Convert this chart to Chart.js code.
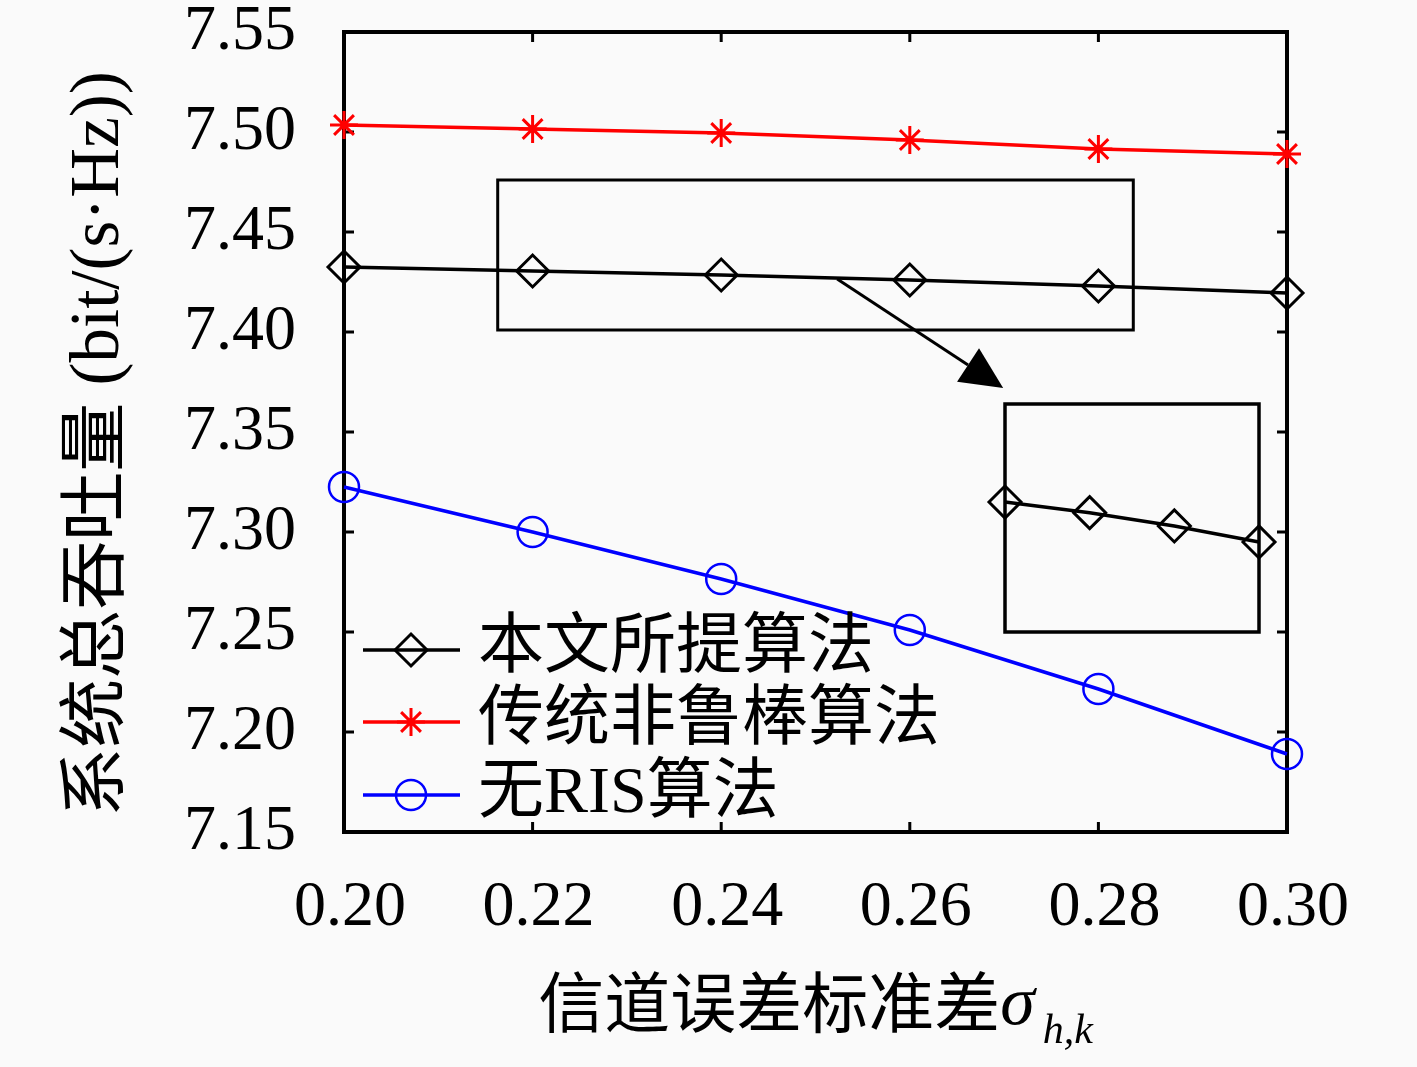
<!DOCTYPE html>
<html>
<head>
<meta charset="utf-8">
<script src="https://cdn.jsdelivr.net/npm/chart.js@4.4.1/dist/chart.umd.min.js"></script>
<style>
  html, body { margin: 0; padding: 0; background: #fafafa; }
  #wrap { position: relative; width: 1417px; height: 1067px; }
  #main { position: absolute; left: 0; top: 0; }
  #inset { position: absolute; left: 975px; top: 374px; }
</style>
</head>
<body>
<div id="wrap">
  <canvas id="main" width="1417" height="1067"></canvas>
  <canvas id="inset" width="314" height="288"></canvas>
</div>
<script>
// data
const sigma = [0.20, 0.22, 0.24, 0.26, 0.28, 0.30];
const proposed = [7.4325, 7.4305, 7.4285, 7.4260, 7.4230, 7.4195];
const nonRobust = [7.5035, 7.5015, 7.4995, 7.4960, 7.4915, 7.4890];
const noRIS = [7.3225, 7.3000, 7.2765, 7.2510, 7.2215, 7.1890];
const seriesNames = ['本文所提算法', '传统非鲁棒算法', '无RIS算法'];
const xTicks = [0.20, 0.22, 0.24, 0.26, 0.28, 0.30];
const yTicks = [7.15, 7.20, 7.25, 7.30, 7.35, 7.40, 7.45, 7.50, 7.55];

// zoom annotation (data coords)
const zoomBox = [0.2163, 7.401, 0.2837, 7.476];
const arrowFrom = [0.2523, 7.4265];
const arrowTo = [0.2699, 7.372];
const insetRange = { x: [0.22, 0.28], y: [7.4061, 7.4489] };

const SERIF = '"Liberation Serif", "DejaVu Serif", serif';
const MIXED = '"Liberation Serif", "Noto Sans CJK SC", sans-serif';

function pts(ys) { return sigma.map((x, i) => ({ x: x, y: ys[i] })); }

const looks = [
  { color: '#000000', pointStyle: 'rectRot', r: 16, pw: 3 },
  { color: '#ff0000', pointStyle: 'star', r: 14, pw: 3 },
  { color: '#0000ff', pointStyle: 'circle', r: 15, pw: 2.5 }
];

function ds(label, data, l) {
  return {
    label: label, data: data,
    borderColor: l.color, borderWidth: 3.5, tension: 0, fill: false,
    pointStyle: l.pointStyle, pointRadius: l.r, pointBorderWidth: l.pw,
    pointBorderColor: l.color, pointBackgroundColor: 'rgba(0,0,0,0)',
    clip: false
  };
}

function legendMarker(ctx, l, x, y) {
  ctx.save();
  ctx.strokeStyle = l.color; ctx.lineWidth = l.pw;
  ctx.beginPath();
  if (l.pointStyle === 'rectRot') {
    ctx.moveTo(x - l.r, y); ctx.lineTo(x, y - l.r); ctx.lineTo(x + l.r, y); ctx.lineTo(x, y + l.r); ctx.closePath();
  } else if (l.pointStyle === 'circle') {
    ctx.arc(x, y, l.r, 0, Math.PI * 2);
  } else {
    for (let k = 0; k < 4; k++) {
      const a = k * Math.PI / 4;
      ctx.moveTo(x - Math.cos(a) * l.r, y - Math.sin(a) * l.r);
      ctx.lineTo(x + Math.cos(a) * l.r, y + Math.sin(a) * l.r);
    }
  }
  ctx.stroke();
  ctx.restore();
}

const framePlugin = {
  id: 'frame',
  beforeDatasetsDraw(chart) {
    const { ctx, chartArea: a, scales: { x, y } } = chart;
    ctx.save();
    ctx.strokeStyle = '#000'; ctx.lineWidth = 4;
    ctx.strokeRect(a.left, a.top, a.right - a.left, a.bottom - a.top);
    ctx.lineWidth = 3;
    ctx.beginPath();
    x.ticks.forEach(t => {
      const px = x.getPixelForValue(t.value);
      ctx.moveTo(px, a.bottom); ctx.lineTo(px, a.bottom - 10);
      ctx.moveTo(px, a.top); ctx.lineTo(px, a.top + 10);
    });
    y.ticks.forEach(t => {
      const py = y.getPixelForValue(t.value);
      ctx.moveTo(a.left, py); ctx.lineTo(a.left + 10, py);
      ctx.moveTo(a.right, py); ctx.lineTo(a.right - 10, py);
    });
    ctx.stroke();

    // zoom rectangle
    const bx0 = x.getPixelForValue(zoomBox[0]), by0 = y.getPixelForValue(zoomBox[3]);
    const bx1 = x.getPixelForValue(zoomBox[2]), by1 = y.getPixelForValue(zoomBox[1]);
    ctx.strokeRect(bx0, by0, bx1 - bx0, by1 - by0);

    // arrow
    const ax0 = x.getPixelForValue(arrowFrom[0]), ay0 = y.getPixelForValue(arrowFrom[1]);
    const ax1 = x.getPixelForValue(arrowTo[0]), ay1 = y.getPixelForValue(arrowTo[1]);
    const ang = Math.atan2(ay1 - ay0, ax1 - ax0);
    const hl = 42, hw = 20;
    const bx = ax1 - Math.cos(ang) * hl, by = ay1 - Math.sin(ang) * hl;
    ctx.beginPath();
    ctx.moveTo(ax0, ay0); ctx.lineTo(bx, by);
    ctx.stroke();
    ctx.beginPath();
    ctx.moveTo(ax1, ay1);
    ctx.lineTo(bx + Math.sin(ang) * hw, by - Math.cos(ang) * hw);
    ctx.lineTo(bx - Math.sin(ang) * hw, by + Math.cos(ang) * hw);
    ctx.closePath();
    ctx.fillStyle = '#000';
    ctx.fill();
    ctx.restore();
  },
  afterDraw(chart) {
    const { ctx, chartArea: a } = chart;
    ctx.save();
    // legend
    const rows = [a.bottom - 182, a.bottom - 110, a.bottom - 37];
    chart.data.datasets.forEach((d, i) => {
      const l = looks[i], yy = rows[i];
      ctx.strokeStyle = l.color; ctx.lineWidth = 3.5;
      ctx.beginPath(); ctx.moveTo(a.left + 19, yy); ctx.lineTo(a.left + 116, yy); ctx.stroke();
      legendMarker(ctx, l, a.left + 67, yy);
      ctx.fillStyle = '#000';
      ctx.font = '66px ' + MIXED;
      ctx.textAlign = 'left'; ctx.textBaseline = 'middle';
      ctx.fillText(d.label, a.left + 134, yy);
    });

    // y title
    ctx.save();
    ctx.translate(100, 444);
    ctx.rotate(-Math.PI / 2);
    ctx.font = '69px ' + MIXED;
    ctx.textAlign = 'center'; ctx.textBaseline = 'middle';
    ctx.fillText('系统总吞吐量 (bit/(s·Hz))', 0, 0);
    ctx.restore();

    // x title with subscript
    const main = '信道误差标准差';
    ctx.font = '66px ' + MIXED;
    const w1 = ctx.measureText(main).width;
    ctx.font = 'italic 70px ' + SERIF;
    const w2 = ctx.measureText('σ').width;
    ctx.font = 'italic 42px ' + SERIF;
    const w3 = ctx.measureText('h,k').width;
    let tx = (a.left + a.right) / 2 - (w1 + w2 + 8 + w3) / 2;
    const ty = 1010;
    ctx.textAlign = 'left'; ctx.textBaseline = 'middle';
    ctx.font = '66px ' + MIXED;
    ctx.fillText(main, tx, ty);
    tx += w1;
    ctx.font = 'italic 70px ' + SERIF;
    ctx.fillText('σ', tx, ty - 4);
    tx += w2 + 8;
    ctx.font = 'italic 42px ' + SERIF;
    ctx.fillText('h,k', tx, ty + 22);
    ctx.restore();
  }
};

new Chart(document.getElementById('main'), {
  type: 'line',
  data: {
    datasets: [
      ds(seriesNames[0], pts(proposed), looks[0]),
      ds(seriesNames[1], pts(nonRobust), looks[1]),
      ds(seriesNames[2], pts(noRIS), looks[2])
    ]
  },
  options: {
    responsive: false, animation: false, devicePixelRatio: 1, events: [],
    layout: { padding: { top: 32, right: 130, left: 0, bottom: 0 } },
    scales: {
      x: {
        type: 'linear', min: 0.2, max: 0.3,
        afterBuildTicks: s => { s.ticks = xTicks.map(v => ({ value: v })); },
        afterFit: s => { s.height = 235; s.paddingLeft = 0; s.paddingRight = 0; },
        grid: { display: false }, border: { display: false },
        ticks: { padding: 30, labelOffset: 6, color: '#000', font: { size: 64, family: SERIF }, callback: v => v.toFixed(2), maxRotation: 0 }
      },
      y: {
        min: 7.15, max: 7.55,
        afterBuildTicks: s => { s.ticks = yTicks.map(v => ({ value: v })); },
        afterFit: s => { s.width = 344; s.paddingTop = 0; s.paddingBottom = 0; },
        grid: { display: false }, border: { display: false },
        ticks: { padding: 40, color: '#000', font: { size: 64, family: SERIF }, callback: v => v.toFixed(2) }
      }
    },
    plugins: { legend: { display: false }, tooltip: { enabled: false } }
  },
  plugins: [framePlugin]
});

// inset: zoomed view of the proposed algorithm
const insetFrame = {
  id: 'insetFrame',
  beforeDatasetsDraw(chart) {
    const { ctx, chartArea: a } = chart;
    ctx.save();
    ctx.strokeStyle = '#000'; ctx.lineWidth = 3.5;
    ctx.strokeRect(a.left, a.top, a.right - a.left, a.bottom - a.top);
    ctx.restore();
  }
};

new Chart(document.getElementById('inset'), {
  type: 'line',
  data: { datasets: [ds(seriesNames[0], pts(proposed).slice(1, 5), looks[0])] },
  options: {
    responsive: false, animation: false, devicePixelRatio: 1, events: [],
    layout: { padding: 30 },
    scales: {
      x: { type: 'linear', display: false, min: insetRange.x[0], max: insetRange.x[1] },
      y: { display: false, min: insetRange.y[0], max: insetRange.y[1] }
    },
    plugins: { legend: { display: false }, tooltip: { enabled: false } }
  },
  plugins: [insetFrame]
});
</script>
</body>
</html>
